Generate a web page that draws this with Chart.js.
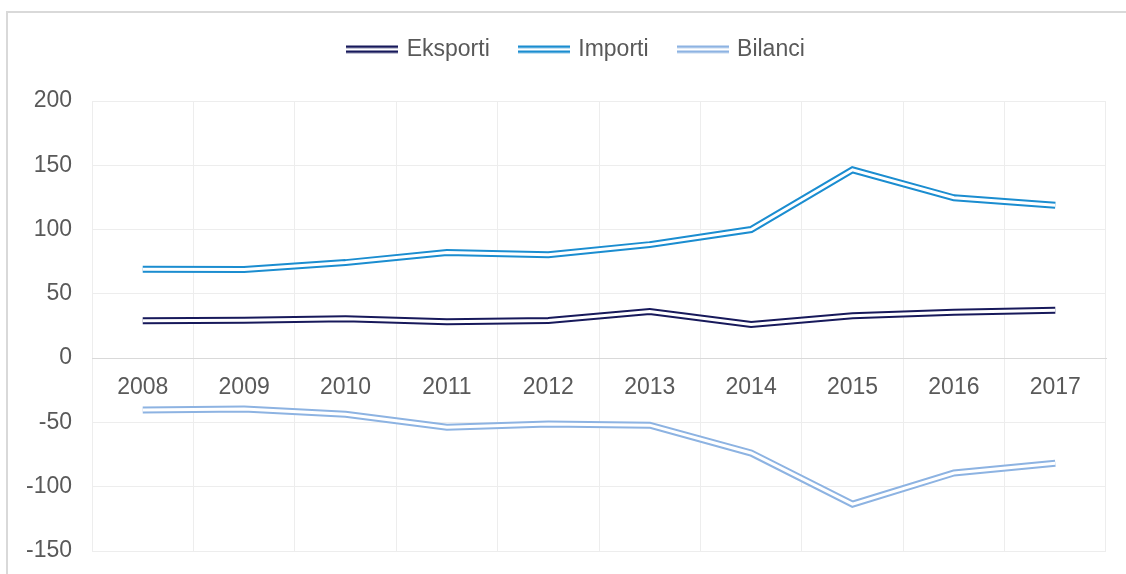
<!DOCTYPE html>
<html><head><meta charset="utf-8">
<script src="https://cdn.jsdelivr.net/npm/chart.js@4.4.1/dist/chart.umd.min.js"></script>
<style>
html,body{margin:0;padding:0;background:#fff;}
#wrap{position:relative;width:1126px;height:574px;overflow:hidden;}
#frame{position:absolute;left:6px;top:11px;width:1200px;height:700px;border:2px solid #D9D9D9;box-sizing:border-box;}
canvas{position:absolute;left:0;top:0;}
</style></head><body>
<div id="wrap"><div id="frame"></div><canvas id="c" width="1126" height="574"></canvas></div>
<script>
const categories = ['2008','2009','2010','2011','2012','2013','2014','2015','2016','2017'];
const eksporti = [29.0, 29.5, 30.7, 28.4, 29.2, 36.2, 26.1, 33.0, 35.6, 37.2];
const importi  = [69.1, 69.0, 74.3, 82.1, 80.5, 88.3, 100.0, 146.5, 124.7, 118.9];
const bilanci  = [-40.3, -39.6, -43.6, -53.7, -51.3, -52.1, -73.8, -113.6, -89.3, -81.8];
const yTicks = [-150, -100, -50, 0, 50, 100, 150, 200];
const seriesNames = ['Eksporti', 'Importi', 'Bilanci'];
const seriesData = [eksporti, importi, bilanci];
const seriesColors = ['#17195B', '#1B8DD0', '#8DB3E2'];

const FONT = "'Liberation Sans', Arial, sans-serif";
const TEXT = '#595959';

function legendImage(color) {
  const c = document.createElement('canvas');
  c.width = 52; c.height = 10;
  const g = c.getContext('2d');
  g.fillStyle = color;
  g.fillRect(0, 1, 52, 2.5);
  g.fillRect(0, 6, 52, 2.5);
  return c;
}

const datasets = [];
seriesNames.forEach((name, i) => {
  datasets.push({
    label: name, data: seriesData[i], borderColor: seriesColors[i], backgroundColor: seriesColors[i],
    borderWidth: 7, pointRadius: 0, pointHoverRadius: 0, tension: 0, order: 2,
    pointStyle: legendImage(seriesColors[i])
  });
});
seriesNames.forEach((name, i) => {
  datasets.push({
    label: '_inner_' + name, data: seriesData[i], borderColor: '#FFFFFF',
    borderWidth: 3, pointRadius: 0, pointHoverRadius: 0, tension: 0, order: 1
  });
});

new Chart(document.getElementById('c'), {
  type: 'line',
  data: { labels: categories, datasets },
  options: {
    responsive: false, animation: false, devicePixelRatio: 1,
    layout: { padding: { left: 6, right: 20, top: 7, bottom: 23 } },
    plugins: {
      tooltip: { enabled: false },
      legend: {
        position: 'top',
        labels: {
          filter: item => !item.text.startsWith('_inner_'),
          usePointStyle: true, pointStyleWidth: 46, boxHeight: 10,
          padding: 31, color: TEXT, font: { family: FONT, size: 23 }
        }
      }
    },
    scales: {
      x: {
        axis: 'x', type: 'category', position: { y: 0 }, offset: true,
        grid: { offset: true, color: '#EDEDED', drawTicks: false },
        border: { display: true, color: '#D9D9D9' },
        ticks: { color: TEXT, font: { family: FONT, size: 23 }, padding: 16, maxRotation: 0, autoSkip: false },
        afterFit: s => { s.paddingLeft = 0; s.paddingRight = 0; s.paddingTop = 0; s.paddingBottom = 0; }
      },
      y: {
        min: -150, max: 200,
        afterBuildTicks: s => { s.ticks = yTicks.map(v => ({ value: v })); },
        grid: { color: ctx => (ctx.tick && ctx.tick.value === 0) ? '#D9D9D9' : '#EDEDED', drawTicks: false },
        border: { display: false },
        ticks: { color: TEXT, font: { family: FONT, size: 23 }, padding: 20 },
        afterFit: s => { s.paddingTop = 0; s.paddingBottom = 0; }
      }
    }
  },
  plugins: [{
    id: 'legendSpace',
    beforeInit(chart) {
      const orig = chart.legend.fit;
      chart.legend.fit = function () { orig.call(this); this.height = 94; };
    },
    afterLayout(chart) {
      chart.legend.left += 21; chart.legend.right += 21;
    }
  }]
});
</script>
</body></html>
